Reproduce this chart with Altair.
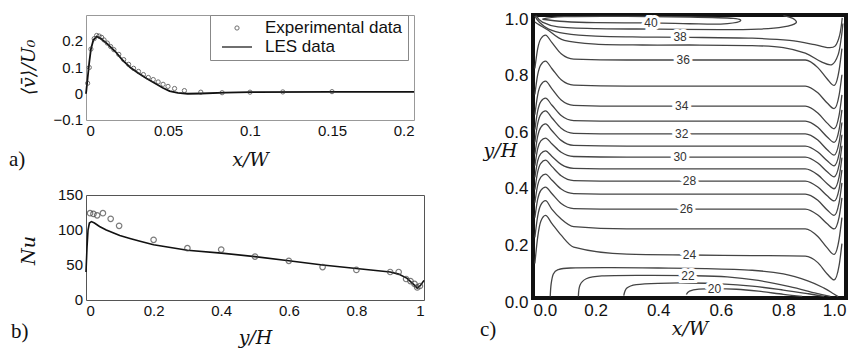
import altair as alt
import pandas as pd

SANS = "Liberation Sans"
SERIF = "DejaVu Serif"
TAGF = "Liberation Serif"

# ---------------- panel a : <v>/U0 vs x/W ----------------
A_LES_X = [0, 0.001, 0.002, 0.003, 0.0045, 0.0065, 0.009, 0.013, 0.018, 0.022, 0.027, 0.032,
           0.037, 0.042, 0.047, 0.051, 0.056, 0.062, 0.07, 0.085, 0.1, 0.15, 0.2]
A_LES_Y = [0.0, 0.06, 0.12, 0.17, 0.205, 0.218, 0.21, 0.19, 0.16, 0.13, 0.10, 0.078,
           0.058, 0.04, 0.022, 0.01, 0.003, 0.0, 0.001, 0.004, 0.006, 0.007, 0.007]
A_EXP_X = [0.001, 0.002, 0.003, 0.005, 0.0065, 0.008, 0.0095, 0.011, 0.013, 0.015, 0.017, 0.02,
           0.023, 0.026, 0.029, 0.032, 0.035, 0.038, 0.041, 0.044, 0.047, 0.05, 0.054, 0.06,
           0.07, 0.083, 0.1, 0.12, 0.15]
A_EXP_Y = [0.04, 0.1, 0.17, 0.21, 0.222, 0.22, 0.215, 0.205, 0.193, 0.18, 0.168, 0.15,
           0.13, 0.112, 0.097, 0.085, 0.073, 0.062, 0.054, 0.045, 0.036, 0.028, 0.02, 0.012,
           0.006, 0.004, 0.006, 0.007, 0.008]
A_XTICKS = [0, 0.05, 0.1, 0.15, 0.2]
A_YTICKS = [-0.1, 0, 0.1, 0.2]
SERIES = ["Experimental data", "LES data"]

# ---------------- panel b : Nu vs y/H ----------------
B_LES_X = [0, 0.003, 0.006, 0.01, 0.016, 0.025, 0.04, 0.06, 0.08, 0.1, 0.13, 0.16, 0.2, 0.25,
           0.3, 0.4, 0.5, 0.6, 0.7, 0.8, 0.9, 0.925, 0.95, 0.97, 0.98, 0.99, 1.0]
B_LES_Y = [40, 75, 100, 110, 112, 110, 105, 100, 96, 92, 88, 84, 79, 75,
           71, 67, 62, 56, 50, 45, 40, 37, 31, 22, 17, 21, 28]
B_EXP_X = [0.012, 0.022, 0.033, 0.05, 0.073, 0.098, 0.2, 0.3, 0.4, 0.5, 0.6, 0.7, 0.8, 0.9,
           0.925, 0.947, 0.96, 0.972, 0.98, 0.988]
B_EXP_Y = [124, 123, 121, 124, 116, 106, 86, 74, 72, 62, 56, 47, 43, 40,
           40, 30, 27, 23, 18, 20]
B_XTICKS = [0, 0.2, 0.4, 0.6, 0.8, 1]
B_YTICKS = [0, 50, 100, 150]

# ---------------- panel c : temperature contours ----------------
C_TICKS = [0, 0.2, 0.4, 0.6, 0.8, 1.0]
CX = [0.006, 0.015, 0.025, 0.04, 0.06, 0.09, 0.13, 0.3, 0.5, 0.7, 0.87, 0.91, 0.94, 0.962, 0.978, 0.987]
C36 = [.811, .881, .916, .929, .903, .863, .844, .841, .841, .841, .841, .814, .774, .751, .805, .881]
C35 = [.719, .789, .824, .837, .811, .771, .752, .749, .749, .749, .749, .725, .689, .669, .717, .789]
C34 = [.648, .718, .753, .766, .740, .700, .681, .678, .678, .678, .678, .654, .618, .598, .646, .718]
C33 = [.595, .661, .694, .706, .682, .645, .627, .625, .625, .625, .625, .603, .569, .550, .595, .665]
C32 = [.550, .616, .649, .661, .637, .600, .582, .580, .580, .580, .580, .558, .524, .505, .550, .620]
C31 = [.507, .572, .603, .615, .592, .557, .539, .537, .537, .537, .537, .516, .485, .467, .509, .577]
C30 = [.468, .528, .555, .565, .545, .515, .500, .498, .498, .498, .498, .477, .446, .428, .470, .538]
C29 = [.426, .485, .510, .520, .501, .472, .458, .456, .456, .456, .456, .435, .404, .386, .428, .496]
C28 = [.383, .446, .476, .487, .465, .432, .415, .413, .413, .413, .413, .392, .361, .343, .385, .453]
C27 = [.337, .399, .427, .438, .417, .385, .369, .367, .367, .367, .367, .345, .311, .292, .337, .407]
C26 = [.284, .349, .380, .392, .369, .334, .316, .314, .314, .314, .314, .293, .262, .244, .286, .354]
C25 = [.214, .289, .329, .344, .314, .279, .252, .244, .244, .244, .244, .217, .177, .154, .208, .284]
C24 = [.122, .215, .271, .292, .264, .222, .180, .155, .152, .150, .148, .125, .085, .064, .115, .192]

C37_X = [0.006, 0.02, 0.05, 0.1, 0.2, 0.35, 0.5, 0.7, 0.8, 0.87, 0.92, 0.955, 0.975, 0.985, 0.99]
C37_Y = [0.975, 0.965, 0.945, 0.91, 0.897, 0.894, 0.894, 0.892, 0.885, 0.865, 0.835, 0.825, 0.86, 0.92, 0.97]
C38_X = [0.006, 0.02, 0.05, 0.1, 0.2, 0.35, 0.5, 0.7, 0.82, 0.9, 0.94, 0.965, 0.98, 0.988]
C38_Y = [0.997, 0.975, 0.95, 0.935, 0.925, 0.922, 0.921, 0.918, 0.91, 0.895, 0.885, 0.89, 0.93, 0.99]
C39_X = [0.01, 0.03, 0.08, 0.2, 0.4, 0.6, 0.72, 0.8, 0.84, 0.83, 0.8]
C39_Y = [0.998, 0.975, 0.958, 0.952, 0.95, 0.948, 0.95, 0.958, 0.972, 0.988, 0.998]
C40_X = [0.03, 0.1, 0.2, 0.377, 0.5, 0.6, 0.66, 0.64, 0.5, 0.3, 0.1, 0.03]
C40_Y = [0.985, 0.977, 0.973, 0.972, 0.969, 0.968, 0.977, 0.988, 0.993, 0.995, 0.994, 0.985]
C23_X = [0.055, 0.058, 0.065, 0.08, 0.12, 0.25, 0.4, 0.55, 0.7, 0.8, 0.88, 0.93, 0.96, 0.975]
C23_Y = [0.005, 0.05, 0.085, 0.1, 0.106, 0.107, 0.106, 0.104, 0.098, 0.085, 0.06, 0.035, 0.015, 0.005]
C22_X = [0.145, 0.15, 0.17, 0.22, 0.35, 0.5, 0.62, 0.72, 0.82, 0.9, 0.95]
C22_Y = [0.005, 0.045, 0.068, 0.078, 0.08, 0.079, 0.075, 0.062, 0.04, 0.018, 0.006]
C21_X = [0.29, 0.3, 0.33, 0.4, 0.5, 0.6, 0.7, 0.8, 0.88, 0.93]
C21_Y = [0.008, 0.035, 0.047, 0.052, 0.053, 0.05, 0.042, 0.028, 0.015, 0.006]
C20_X = [0.49, 0.5, 0.53, 0.58, 0.65, 0.72, 0.8, 0.86]
C20_Y = [0.012, 0.024, 0.031, 0.033, 0.031, 0.024, 0.013, 0.006]

LBL_V = ["40", "38", "36", "34", "32", "30", "28", "26", "24", "22", "20"]
LBL_X = [0.377, 0.47, 0.48, 0.475, 0.475, 0.47, 0.5, 0.49, 0.5, 0.495, 0.58]
LBL_Y = [0.972, 0.921, 0.841, 0.678, 0.580, 0.498, 0.413, 0.314, 0.152, 0.079, 0.032]

# ---------------- build tables ----------------
a_les = pd.DataFrame({"x": A_LES_X, "y": A_LES_Y})
a_exp = pd.DataFrame({"x": A_EXP_X, "y": A_EXP_Y, "series": SERIES[0]})
b_les = pd.DataFrame({"x": B_LES_X, "y": B_LES_Y})
b_exp = pd.DataFrame({"x": B_EXP_X, "y": B_EXP_Y})

h_rows = []
for lvl, ys in [(36, C36), (35, C35), (34, C34), (33, C33), (32, C32), (31, C31), (30, C30),
                (29, C29), (28, C28), (27, C27), (26, C26), (25, C25), (24, C24)]:
    for i, (xv, yv) in enumerate(zip(CX, ys)):
        h_rows.append({"lvl": lvl, "i": i, "x": xv, "y": yv})
c_h = pd.DataFrame(h_rows)

o_rows = []
for lvl, xs, ys in [(37, C37_X, C37_Y), (38, C38_X, C38_Y), (39, C39_X, C39_Y), (40, C40_X, C40_Y),
                    (23, C23_X, C23_Y), (22, C22_X, C22_Y), (21, C21_X, C21_Y), (20, C20_X, C20_Y)]:
    for i, (xv, yv) in enumerate(zip(xs, ys)):
        o_rows.append({"lvl": lvl, "i": i, "x": xv, "y": yv})
c_o = pd.DataFrame(o_rows)
c_lbl = pd.DataFrame({"t": LBL_V, "x": LBL_X, "y": LBL_Y})


def tag(text, x, y):
    return alt.Chart(pd.DataFrame({"t": [text]})).mark_text(
        align="left", baseline="alphabetic", font=TAGF, fontSize=21, color="#111"
    ).encode(x=alt.value(x), y=alt.value(y), text="t:N")


def ylabels(vals, fmt):
    # y tick labels drawn through the panel's own y scale
    return alt.Chart(pd.DataFrame({"y": vals})).mark_text(
        align="right", baseline="middle", font=SANS, fontSize=15, color="#111"
    ).encode(x=alt.value(-3), y="y:Q", text=alt.Text("y:Q", format=fmt))


title_style = dict(titleFont=SERIF, titleFontStyle="italic", titleFontWeight="normal",
                   titleFontSize=19, titleColor="#111", labelOverlap=False)


def legend():
    return alt.Legend(title=None, orient="none", legendX=124, legendY=0, padding=5,
                      strokeColor="#888", fillColor="white", labelFont=SANS,
                      labelFontSize=17, labelColor="#111", rowPadding=2, clipHeight=16,
                      labelOffset=12, symbolOffset=6, labelLimit=300)


# ---------------- panel a ----------------
ax = alt.X("x:Q", scale=alt.Scale(domain=[0, 0.2], nice=False),
           axis=alt.Axis(values=A_XTICKS, format="~g", title="x/W",
                         labelFontSize=15, labelPadding=3, titleY=45, titleBaseline="alphabetic",
                         **title_style))
ay = alt.Y("y:Q", scale=alt.Scale(domain=[-0.1, 0.3], nice=False),
           axis=alt.Axis(values=A_YTICKS, labels=False, title="⟨v\u0304⟩/U₀",
                         titleAngle=270, titleX=-58, titleY=52,
                         titleAlign="center", titleBaseline="middle", **title_style))

a_line = alt.Chart(a_les).mark_line(color="#111", strokeWidth=1.8).encode(x=ax, y=ay)
a_pts = alt.Chart(a_exp).mark_point(filled=False, color="#333").encode(
    x="x:Q", y="y:Q",
    shape=alt.Shape("series:N", scale=alt.Scale(domain=SERIES, range=["circle", "stroke"]),
                    legend=legend()),
    size=alt.Size("series:N", scale=alt.Scale(domain=SERIES, range=[18, 900]), legend=legend()),
    strokeWidth=alt.StrokeWidth("series:N", scale=alt.Scale(domain=SERIES, range=[1, 2]),
                                legend=legend()),
)
panel_a = alt.layer(a_line, a_pts, ylabels(A_YTICKS, "~g"), tag("a)", -77, 151)).properties(
    width=328, height=105, view=alt.ViewBackground(stroke="#999", strokeWidth=1))

# ---------------- panel b ----------------
bx = alt.X("x:Q", scale=alt.Scale(domain=[0, 1], nice=False),
           axis=alt.Axis(values=B_XTICKS, format="~g", title="y/H",
                         labelFontSize=15, labelPadding=3, titleY=43, titleBaseline="alphabetic",
                         **title_style))
by = alt.Y("y:Q", scale=alt.Scale(domain=[0, 150], nice=False),
           axis=alt.Axis(values=B_YTICKS, labels=False, title="Nu",
                         titleAngle=270, titleX=-58, titleY=55,
                         titleAlign="center", titleBaseline="middle", **title_style))
b_line = alt.Chart(b_les).mark_line(color="#111", strokeWidth=1.6).encode(x=bx, y=by)
b_pts = alt.Chart(b_exp).mark_point(filled=False, color="#444", size=30, strokeWidth=1.2).encode(
    x="x:Q", y="y:Q")
panel_b = alt.layer(b_line, b_pts, ylabels(B_YTICKS, "d"), tag("b)", -75, 143)).properties(
    width=338, height=105, view=alt.ViewBackground(stroke="#555", strokeWidth=1))

# ---------------- panel c ----------------
cx = alt.X("x:Q", scale=alt.Scale(domain=[0, 1], nice=False),
           axis=alt.Axis(values=C_TICKS, format=".1f", title="x/W",
                         labelFontSize=17, labelPadding=4, titleY=36, titleBaseline="alphabetic",
                         **title_style))
cy = alt.Y("y:Q", scale=alt.Scale(domain=[0, 1], nice=False),
           axis=alt.Axis(values=C_TICKS, format=".1f", title="y/H",
                         labelFontSize=17, labelPadding=5, labelOffset=4, titleAngle=0, titleX=-50,
                         titleY=135, titleAlign="left", titleBaseline="middle", **title_style))
c_hl = alt.Chart(c_h).mark_line(color="#444", strokeWidth=1.3, interpolate="monotone").encode(
    x=cx, y=cy, detail="lvl:N", order="i:Q")
c_ol = alt.Chart(c_o).mark_line(color="#444", strokeWidth=1.3, interpolate="cardinal").encode(
    x="x:Q", y="y:Q", detail="lvl:N", order="i:Q")
c_halo = alt.Chart(c_lbl).mark_text(font=SANS, fontSize=12, fill="white", stroke="white",
                                    strokeWidth=6).encode(x="x:Q", y="y:Q", text="t:N")
c_txt = alt.Chart(c_lbl).mark_text(font=SANS, fontSize=12, color="#333").encode(
    x="x:Q", y="y:Q", text="t:N")
panel_c = alt.layer(c_hl, c_ol, c_halo, c_txt, tag("c)", -53, 321)).properties(
    width=313, height=283, view=alt.ViewBackground(stroke="#111", strokeWidth=4))

left = alt.vconcat(panel_a, panel_b, spacing=16)
chart = alt.hconcat(left, panel_c, spacing=50).properties(
    padding={"left": 0, "top": 0, "right": 0, "bottom": 0}
).configure_axis(
    grid=False, ticks=False, domain=False, labelFont=SANS, labelColor="#111", labelOverlap=False
).configure_view(stroke="#888")

chart.save("out.html", embed_options={"renderer": "svg", "actions": False})
